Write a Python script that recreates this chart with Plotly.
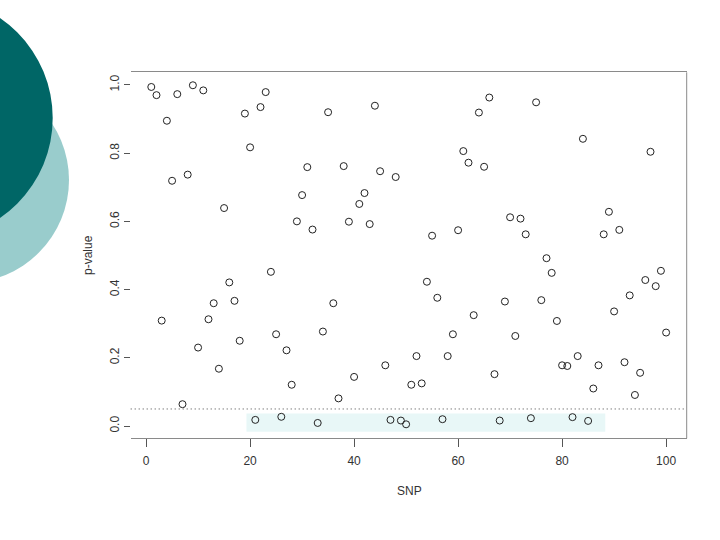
import plotly.graph_objects as go

snp = list(range(1, 101))
p_values = [
    0.994, 0.970, 0.309, 0.895, 0.719, 0.973, 0.064, 0.737, 0.999, 0.230,
    0.984, 0.313, 0.360, 0.168, 0.639, 0.421, 0.367, 0.250, 0.916, 0.817,
    0.018, 0.935, 0.979, 0.452, 0.269, 0.027, 0.222, 0.121, 0.600, 0.677,
    0.759, 0.576, 0.009, 0.277, 0.920, 0.360, 0.081, 0.762, 0.599, 0.144,
    0.651, 0.683, 0.592, 0.939, 0.747, 0.178, 0.018, 0.730, 0.016, 0.005,
    0.121, 0.205, 0.125, 0.423, 0.558, 0.376, 0.020, 0.205, 0.269, 0.574,
    0.806, 0.772, 0.325, 0.919, 0.760, 0.963, 0.152, 0.016, 0.365, 0.612,
    0.264, 0.608, 0.562, 0.023, 0.949, 0.369, 0.492, 0.449, 0.308, 0.178,
    0.176, 0.026, 0.205, 0.842, 0.015, 0.110, 0.178, 0.562, 0.628, 0.336,
    0.575, 0.187, 0.383, 0.091, 0.156, 0.428, 0.804, 0.410, 0.455, 0.274,
]
x_ticks = [0, 20, 40, 60, 80, 100]
y_ticks = [0.0, 0.2, 0.4, 0.6, 0.8, 1.0]
y_tick_labels = ["0.0", "0.2", "0.4", "0.6", "0.8", "1.0"]
threshold = 0.05
highlight_x = [19.3, 88.3]
highlight_y = [-0.017, 0.037]

W, H = 720, 540
L, R, T, B = 130.7, 686.7, 72.3, 438.3
FONT = "Liberation Sans, Arial, sans-serif"
TXT = "#333333"
LINE = "#8a8a8a"

fig = go.Figure()
fig.add_trace(go.Scatter(
    x=snp, y=p_values, mode="markers",
    marker=dict(symbol="circle-open", size=7, color="#222222",
                line=dict(width=1, color="#222222")),
    showlegend=False, hoverinfo="x+y",
))

def circ(cx, cy, r, color):
    return dict(type="circle", xref="paper", yref="paper",
                x0=(cx - r) / W, x1=(cx + r) / W,
                y0=1 - (cy + r) / H, y1=1 - (cy - r) / H,
                fillcolor=color, line=dict(width=0), layer="above")

shapes = [
    circ(-33.7, 180, 102.7, "#99cccc"),
    circ(-68.5, 118, 121.2, "#006666"),
    dict(type="rect", xref="x", yref="y",
         x0=highlight_x[0], x1=highlight_x[1], y0=highlight_y[0], y1=highlight_y[1],
         fillcolor="#e8f7f7", line=dict(width=0), layer="below"),
    dict(type="line", xref="x domain", yref="y", x0=0, x1=1,
         y0=threshold, y1=threshold, line=dict(color="#444444", width=1, dash="1px,3px")),
    dict(type="line", xref="paper", yref="paper", x0=R / W, x1=R / W,
         y0=1 - B / H, y1=1 - T / H, line=dict(color=LINE, width=1)),
]

fig.update_layout(
    width=W, height=H,
    margin=dict(l=0, r=0, t=0, b=0),
    paper_bgcolor="white", plot_bgcolor="white",
    font=dict(family=FONT, size=12, color=TXT),
    shapes=shapes,
    xaxis=dict(domain=[L / W, R / W], range=[-2.96, 103.96],
               tickvals=x_ticks, ticks="outside", ticklen=8, tickcolor="#555555",
               ticklabelstandoff=3,
               showline=True, linecolor=LINE, linewidth=1, mirror=True,
               showgrid=False, zeroline=False, automargin=False,
               tickfont=dict(size=12, color=TXT)),
    yaxis=dict(domain=[1 - B / H, 1 - T / H], range=[-0.036, 1.037],
               tickvals=y_ticks, ticktext=y_tick_labels, tickangle=-90,
               ticks="outside", ticklen=6, tickcolor="#555555",
               showline=False, showgrid=False, zeroline=False, automargin=False,
               tickfont=dict(size=12, color=TXT)),
    annotations=[
        dict(text="p-value", xref="paper", yref="paper", x=88 / W, y=1 - 255 / H,
             textangle=-90, showarrow=False, font=dict(size=12, color=TXT),
             xanchor="center", yanchor="middle"),
        dict(text="SNP", xref="paper", yref="paper", x=409 / W, y=1 - 491 / H,
             showarrow=False, font=dict(size=12, color=TXT),
             xanchor="center", yanchor="middle"),
    ],
)

fig.write_html("out.html", config={"displayModeBar": False},
               post_script="document.body.style.margin='0px';")
